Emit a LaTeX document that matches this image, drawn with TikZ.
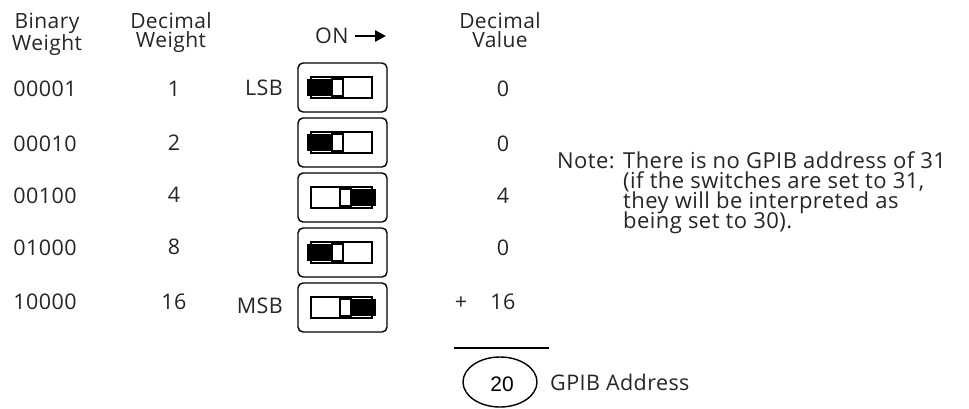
\documentclass[tikz,border=0pt]{standalone}
\usepackage{fontspec}
\setmainfont[LetterSpace=2]{Open Sans}
\newfontfamily\helv{Liberation Sans}
\usetikzlibrary{arrows.meta,shapes.geometric}
\tikzset{
  txt/.style={inner sep=0pt, text=black!85, font=\fontsize{21.5}{19.5}\selectfont},
  hdr/.style={txt, align=center, anchor=north, font=\fontsize{21}{19.5}\selectfont},
  row/.style={txt, anchor=base},
  notetxt/.style={txt, anchor=base west, font=\fontsize{22}{20}\selectfont},
  swbox/.style={draw, rounded corners=5pt, line width=1.4pt, minimum width=89pt, minimum height=49pt, inner sep=0pt},
  swline/.style={line width=1.1pt}
}
\newcommand{\swleft}[1]{%
  \draw[swline] (311,#1-10.5) rectangle (372,#1+10.5);
  \fill (307,#1-8.5) rectangle (332,#1+8.5);
  \draw[swline,fill=white] (332,#1-8.5) rectangle (343,#1+8.5);}
\newcommand{\swright}[1]{%
  \draw[swline] (311,#1-10.5) rectangle (372,#1+10.5);
  \draw[swline,fill=white] (340,#1-8.5) rectangle (351,#1+8.5);
  \fill (351,#1-8.5) rectangle (376,#1+8.5);}
\begin{document}
\begin{tikzpicture}[x=1pt,y=-1pt]
\useasboundingbox[fill=white] (0,0) rectangle (969,408);
% headers
\node[hdr] (hbw) at (47,12.5) {Binary\\Weight};
\node[hdr] (hdw) at (171,12) {Decimal\\Weight};
\node[hdr] (hdv) at (500,12) {Decimal\\Value};
\node[row, anchor=base west] (hon) at (315,43) {ON};
\coordinate (arrS) at (355,36);
\coordinate (arrE) at (386,36);
\draw[line width=2.4pt, -{Triangle[length=11pt,width=11pt]}] (arrS) -- (arrE);
% rows
\node[row] (b1) at (45,96) {00001};
\node[row] (b2) at (45,151) {00010};
\node[row] (b3) at (45,203) {00100};
\node[row] (b4) at (45,255) {01000};
\node[row] (b5) at (45,309) {10000};
\node[row] (d1) at (174,96) {1};
\node[row] (d2) at (174,150) {2};
\node[row] (d3) at (174,202) {4};
\node[row] (d4) at (174,254) {8};
\node[row] (d5) at (174,309) {16};
\node[row, anchor=base east] (lsb) at (283,95) {LSB};
\node[row, anchor=base east] (msb) at (283,313) {MSB};
\node[row] (v1) at (503,96) {0};
\node[row] (v2) at (503,151) {0};
\node[row] (v3) at (503,203) {4};
\node[row] (v4) at (503,255) {0};
\node[row] (v5) at (503,309) {16};
\node[row] (plus) at (461,309) {+};
% switches
\node[swbox] (s1) at (342.5,87.5) {};
\node[swbox] (s2) at (342.5,142.5) {};
\node[swbox] (s3) at (342.5,197.5) {};
\node[swbox] (s4) at (342.5,252.5) {};
\node[swbox] (s5) at (342.5,307.5) {};
\swleft{87.5}
\swleft{142.5}
\swright{197.5}
\swleft{252.5}
\swright{307.5}
% sum
\coordinate (sumL) at (454,348);
\coordinate (sumR) at (549,348);
\draw[line width=1.4pt] (sumL) -- (sumR);
\node[draw, ellipse, line width=1.4pt, minimum width=74pt, minimum height=50pt, inner sep=0pt] (addr) at (500,382) {};
\node[inner sep=0pt, anchor=base, font=\helv\fontsize{21}{21}\selectfont] (twenty) at (502,391) {20};
\node[row, anchor=base west] (gpib) at (550,390) {GPIB Address};
% note
\node[notetxt, anchor=base east] (note) at (615,168) {Note:};
\node[notetxt] (n1) at (623,168) {There is no GPIB address of 31};
\node[notetxt] (n2) at (623,188) {(if the switches are set to 31,};
\node[notetxt] (n3) at (623,208) {they will be interpreted as};
\node[notetxt] (n4) at (623,228) {being set to 30).};
\end{tikzpicture}
\end{document}
